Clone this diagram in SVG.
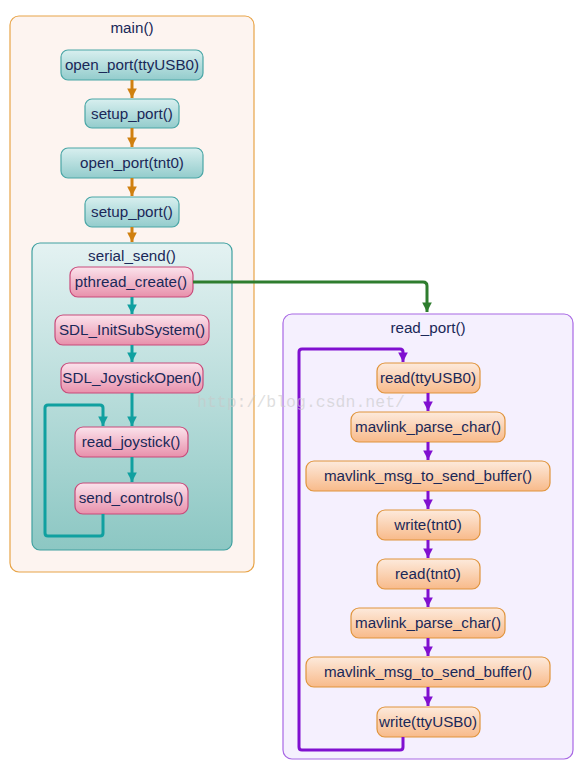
<svg xmlns="http://www.w3.org/2000/svg" width="584" height="780" viewBox="0 0 584 780">
<defs>
<linearGradient id="gTeal" x1="0" y1="0" x2="0" y2="1"><stop offset="0" stop-color="#d8efef"/><stop offset="1" stop-color="#93cccc"/></linearGradient>
<linearGradient id="gPink" x1="0" y1="0" x2="0" y2="1"><stop offset="0" stop-color="#fbe3ec"/><stop offset="1" stop-color="#e890ab"/></linearGradient>
<linearGradient id="gOrange" x1="0" y1="0" x2="0" y2="1"><stop offset="0" stop-color="#fdeadc"/><stop offset="1" stop-color="#f8ba8a"/></linearGradient>
<linearGradient id="gSerial" x1="0" y1="0" x2="0" y2="1"><stop offset="0" stop-color="#e4f2f2"/><stop offset="1" stop-color="#8cc7c3"/></linearGradient>
<marker id="aOr" viewBox="0 0 10 10" refX="10" refY="5" markerWidth="3.2" markerHeight="3.2" markerUnits="strokeWidth" orient="auto"><path d="M0,0 L10,5 L0,10 Z" fill="#d08010"/></marker>
<marker id="aTe" viewBox="0 0 10 10" refX="10" refY="5" markerWidth="3.2" markerHeight="3.2" markerUnits="strokeWidth" orient="auto"><path d="M0,0 L10,5 L0,10 Z" fill="#10a0a0"/></marker>
<marker id="aGr" viewBox="0 0 10 10" refX="10" refY="5" markerWidth="3.2" markerHeight="3.2" markerUnits="strokeWidth" orient="auto"><path d="M0,0 L10,5 L0,10 Z" fill="#2e7d2e"/></marker>
<marker id="aPu" viewBox="0 0 10 10" refX="10" refY="5" markerWidth="3.2" markerHeight="3.2" markerUnits="strokeWidth" orient="auto"><path d="M0,0 L10,5 L0,10 Z" fill="#8010d0"/></marker>
</defs>
<style>
text{font-family:"Liberation Sans",Arial,sans-serif;font-size:15.2px;fill:#1a2858;text-anchor:middle;}
.teal{fill:url(#gTeal);stroke:#4aa6a6;stroke-width:1.2;}
.pink{fill:url(#gPink);stroke:#c84a7a;stroke-width:1.2;}
.orange{fill:url(#gOrange);stroke:#e0943c;stroke-width:1.2;}
.or{stroke:#d08010;stroke-width:3;fill:none;marker-end:url(#aOr);}
.te{stroke:#10a0a0;stroke-width:3;fill:none;marker-end:url(#aTe);}
.gr{stroke:#2e7d2e;stroke-width:3;fill:none;marker-end:url(#aGr);}
.pu{stroke:#8010d0;stroke-width:3;fill:none;marker-end:url(#aPu);}
.wm{font-family:"Liberation Mono","Courier New",monospace;font-size:16.5px;fill:#c8c8c8;fill-opacity:0.6;text-anchor:start;}
</style>

<g id="main">
<rect x="10" y="16" width="244" height="556" rx="9" fill="#fdf4f0" stroke="#e8a448" stroke-width="1.2"/>
<text x="132" y="33">main()</text>
</g>
<g id="read_port">
<rect x="283" y="314" width="290" height="445" rx="9" fill="#f5f0fe" stroke="#a868e4" stroke-width="1.2"/>
<text x="428" y="333">read_port()</text>
</g>
<g id="serial_send">
<rect x="32" y="243" width="200" height="307" rx="8" fill="url(#gSerial)" stroke="#40a0a0" stroke-width="1.2"/>
<text x="132" y="261">serial_send()</text>
</g>

<g id="open_port_ttyUSB0"><rect class="teal" x="61" y="50" width="142" height="30" rx="7"/><text x="132" y="70">open_port(ttyUSB0)</text></g>
<g id="setup_port_1"><rect class="teal" x="85" y="99" width="94" height="29" rx="7"/><text x="132" y="119">setup_port()</text></g>
<g id="open_port_tnt0"><rect class="teal" x="61" y="148" width="142" height="30" rx="7"/><text x="132" y="168">open_port(tnt0)</text></g>
<g id="setup_port_2"><rect class="teal" x="85" y="197" width="94" height="30" rx="7"/><text x="132" y="217">setup_port()</text></g>

<g id="pthread_create"><rect class="pink" x="70" y="267" width="123" height="30" rx="8"/><text x="131" y="287">pthread_create()</text></g>
<g id="SDL_InitSubSystem"><rect class="pink" x="55" y="315" width="154" height="30" rx="8"/><text x="132" y="335">SDL_InitSubSystem()</text></g>
<g id="SDL_JoystickOpen"><rect class="pink" x="61" y="363" width="142" height="30" rx="8"/><text x="132" y="383">SDL_JoystickOpen()</text></g>
<g id="read_joystick"><rect class="pink" x="75" y="427" width="113" height="30" rx="8"/><text x="131" y="447">read_joystick()</text></g>
<g id="send_controls"><rect class="pink" x="75" y="483" width="113" height="31" rx="8"/><text x="131" y="503">send_controls()</text></g>

<g id="read_ttyUSB0"><rect class="orange" x="377" y="363" width="103" height="30" rx="8"/><text x="428" y="383">read(ttyUSB0)</text></g>
<g id="mavlink_parse_char_1"><rect class="orange" x="351" y="412" width="154" height="30" rx="8"/><text x="428" y="432">mavlink_parse_char()</text></g>
<g id="mavlink_msg_to_send_buffer_1"><rect class="orange" x="306" y="461" width="244" height="30" rx="8"/><text x="428" y="481">mavlink_msg_to_send_buffer()</text></g>
<g id="write_tnt0"><rect class="orange" x="377" y="510" width="103" height="30" rx="8"/><text x="428" y="530">write(tnt0)</text></g>
<g id="read_tnt0"><rect class="orange" x="377" y="559" width="103" height="30" rx="8"/><text x="428" y="579">read(tnt0)</text></g>
<g id="mavlink_parse_char_2"><rect class="orange" x="351" y="608" width="154" height="30" rx="8"/><text x="428" y="628">mavlink_parse_char()</text></g>
<g id="mavlink_msg_to_send_buffer_2"><rect class="orange" x="306" y="657" width="244" height="30" rx="8"/><text x="428" y="677">mavlink_msg_to_send_buffer()</text></g>
<g id="write_ttyUSB0"><rect class="orange" x="377" y="707" width="103" height="30" rx="8"/><text x="428" y="727">write(ttyUSB0)</text></g>

<g id="connectors">
<path class="or" d="M132,80 V98"/>
<path class="or" d="M132,128 V147"/>
<path class="or" d="M132,178 V196"/>
<path class="or" d="M132,227 V242"/>
<path class="te" d="M132,297 V314"/>
<path class="te" d="M132,345 V362"/>
<path class="te" d="M132,393 V426"/>
<path class="te" d="M132,457 V482"/>
<path class="te" d="M103,514 V533 Q103,536 100,536 H48 Q45,536 45,533 V408 Q45,405 48,405 H100 Q103,405 103,408 V426"/>
<path class="gr" d="M193,282 H423 Q427,282 427,286 V312"/>
<path class="pu" d="M428,393 V411"/>
<path class="pu" d="M428,442 V460"/>
<path class="pu" d="M428,491 V509"/>
<path class="pu" d="M428,540 V558"/>
<path class="pu" d="M428,589 V607"/>
<path class="pu" d="M428,638 V656"/>
<path class="pu" d="M428,687 V706"/>
<path class="pu" d="M403,737 V747 Q403,750 400,750 H302 Q299,750 299,747 V352 Q299,349 302,349 H400 Q403,349 403,352 V362"/>
</g>
<text class="wm" x="197" y="407">http://blog.csdn.net/</text>
</svg>
